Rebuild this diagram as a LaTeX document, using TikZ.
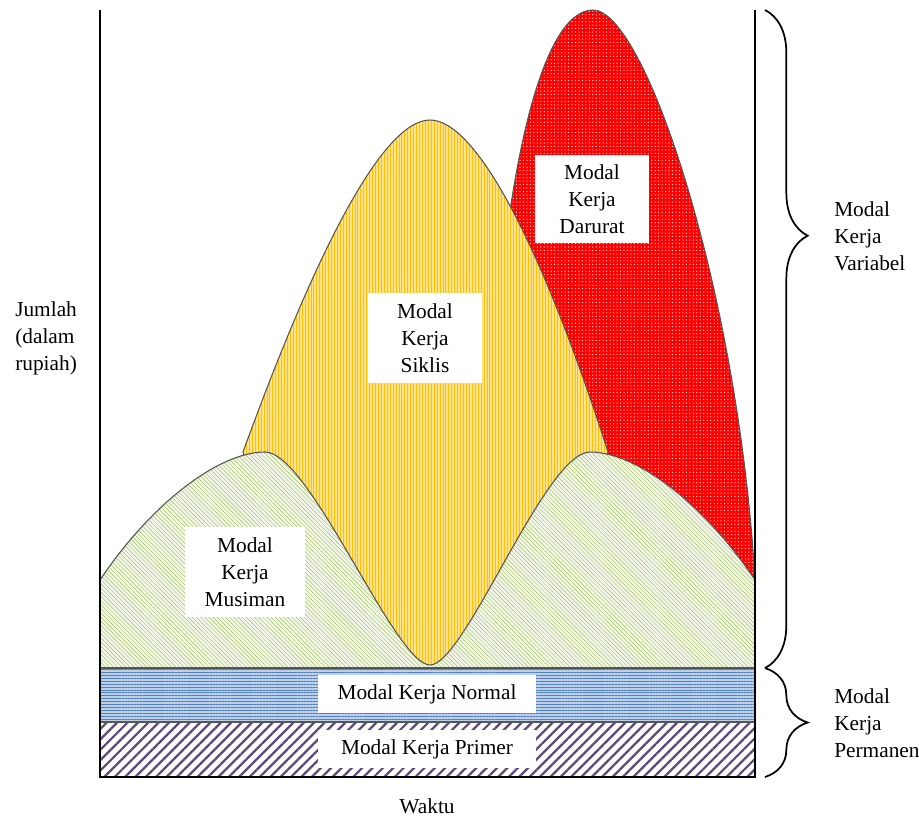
\documentclass[tikz,border=0pt]{standalone}
\usepackage{fontspec}
\setmainfont{Liberation Serif}
\usetikzlibrary{patterns.meta, decorations.pathreplacing}
\definecolor{darurat}{RGB}{255,0,0}
\definecolor{siklisbg}{RGB}{255,226,140}
\definecolor{siklis}{RGB}{255,192,0}
\definecolor{musimanbg}{RGB}{244,248,236}
\definecolor{musiman}{RGB}{160,190,95}
\definecolor{normalbg}{RGB}{190,208,232}
\definecolor{normal}{RGB}{79,129,189}
\definecolor{primer}{RGB}{96,73,122}
\definecolor{edge}{RGB}{85,85,85}

\begin{document}
\begin{tikzpicture}[x=0.75pt,y=-0.75pt,font=\fontsize{16}{20.25}\selectfont,
    shape edge/.style={draw=edge, line width=0.8pt},
    labelbox/.style={fill=white, align=center, inner sep=0pt},
    brace line/.style={line width=1.3pt, decorate}]
    \useasboundingbox (0,0) rectangle (919,819);

    % Modal Kerja Darurat
    \draw[shape edge, preaction={fill=darurat}, pattern={Dots[distance=2.6pt,radius=0.45pt]}, pattern color=white]
        (490,420) .. controls (505,150) and (545,10) .. (593,10)
        .. controls (645,10) and (738,290) .. (755,580) -- (755,668) -- (490,668) -- cycle;

    % Modal Kerja Siklis
    \draw[shape edge, preaction={fill=siklisbg}, pattern={Lines[angle=90,distance=2.2pt,line width=0.6pt]}, pattern color=siklis]
        (243,452) .. controls (320,240) and (385,120) .. (430,120)
        .. controls (475,120) and (540,240) .. (608,452) -- (560,668) -- (300,668) -- cycle;

    % Modal Kerja Musiman
    \draw[shape edge, preaction={fill=musimanbg}, pattern={Lines[angle=-45,distance=2.2pt,line width=0.35pt]}, pattern color=musiman]
        (100,668) -- (100,580) .. controls (150,505) and (218,452) .. (265,452)
        .. controls (310,452) and (395,665) .. (430,665)
        .. controls (465,665) and (545,452) .. (590,452)
        .. controls (637,452) and (705,505) .. (755,580) -- (755,668) -- cycle;

    % Modal Kerja Normal
    \draw[shape edge, preaction={fill=normalbg}, pattern={Lines[angle=0,distance=2.2pt,line width=0.6pt]}, pattern color=normal]
        (100,668) rectangle (755,722);

    % Modal Kerja Primer
    \draw[shape edge, preaction={fill=white}, pattern={Lines[angle=45,distance=5.5pt,line width=1.7pt]}, pattern color=primer]
        (100,722) rectangle (755,777);

    % labels inside
    \node[labelbox, minimum width=86pt, minimum height=66pt] (darurat) at (592,199) {Modal\\Kerja\\Darurat};
    \node[labelbox, minimum width=86pt, minimum height=68pt] (siklis) at (425,338) {Modal\\Kerja\\Siklis};
    \node[labelbox, minimum width=90pt, minimum height=68pt] (musiman) at (245,572) {Modal\\Kerja\\Musiman};
    \node[labelbox, minimum width=163pt, minimum height=28pt] (normal) at (427,694) {Modal Kerja Normal};
    \node[labelbox, minimum width=163pt, minimum height=28pt] (primer) at (427,749) {Modal Kerja Primer};

    % axes
    \draw[line width=1.5pt] (100,10) -- (100,777) -- (755,777) -- (755,10);

    % braces
    \coordinate (vtop) at (765,10);
    \coordinate (split) at (765,668);
    \coordinate (pbot) at (765,777);
    \draw[brace line, decoration={brace, amplitude=32pt, aspect=0.343}] (vtop) -- (split);
    \draw[brace line, decoration={brace, amplitude=32pt, aspect=0.5}] (split) -- (pbot);

    % labels outside
    \node[align=left, anchor=west, inner sep=0pt] (jumlah) at (15,338) {Jumlah\\(dalam\\rupiah)};
    \node[align=left, anchor=west, inner sep=0pt] (variabel) at (834,236) {Modal\\Kerja\\Variabel};
    \node[align=left, anchor=west, inner sep=0pt] (permanen) at (834,723) {Modal\\Kerja\\Permanen};
    \node (waktu) at (427,806) {Waktu};
\end{tikzpicture}
\end{document}
